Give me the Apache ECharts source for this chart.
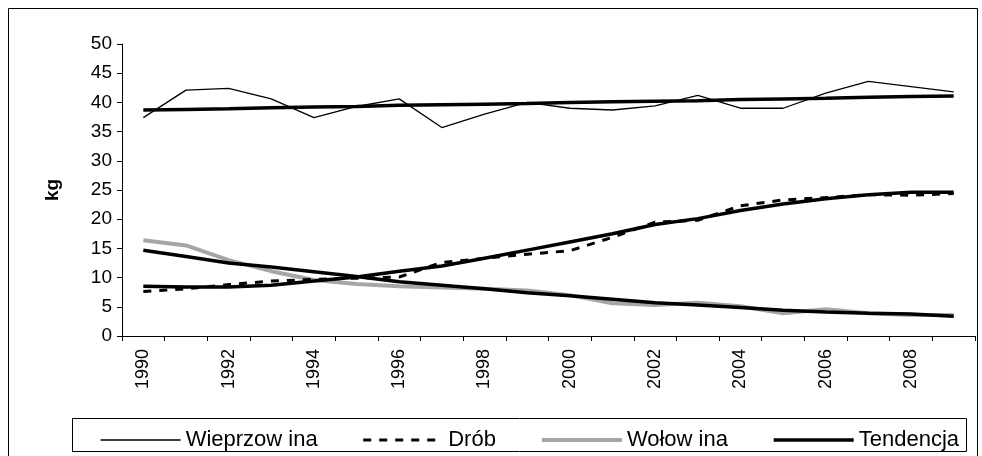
<!DOCTYPE html>
<html>
<head>
<meta charset="utf-8">
<script src="https://cdn.jsdelivr.net/npm/echarts@6/dist/echarts.min.js"></script>
<style>
html,body{margin:0;padding:0;background:#fff;}
#c{width:982px;height:456px;}
</style>
</head>
<body>
<div id="c"></div>
<script>
var years = ['1990','1991','1992','1993','1994','1995','1996','1997','1998','1999','2000','2001','2002','2003','2004','2005','2006','2007','2008','2009'];
var wieprzowina = [37.4,42.1,42.4,40.6,37.4,39.3,40.6,35.7,38.0,40.0,39.0,38.7,39.4,41.2,39.0,39.0,41.6,43.6,42.7,41.8];
var drob = [7.6,8.1,8.8,9.4,9.7,9.9,10.1,12.6,13.3,14.0,14.6,16.9,19.5,19.8,22.3,23.3,23.7,24.2,24.1,24.4];
var wolowina = [16.4,15.5,13.0,11.1,9.6,8.9,8.5,8.3,8.1,7.8,7.0,5.6,5.3,5.7,5.1,3.9,4.6,3.9,3.6,3.6];
var trendWieprz = [38.7,38.8,38.9,39.1,39.2,39.3,39.5,39.6,39.7,39.8,40.0,40.1,40.2,40.3,40.5,40.6,40.7,40.9,41.0,41.1];
var trendDrob = [8.5,8.4,8.4,8.7,9.4,10.1,11.1,12.0,13.3,14.7,16.1,17.5,19.1,20.1,21.5,22.6,23.5,24.2,24.6,24.6];
var trendWolow = [14.7,13.6,12.5,11.8,11.0,10.2,9.3,8.7,8.1,7.4,6.9,6.3,5.7,5.3,4.9,4.4,4.1,3.9,3.75,3.4];
var yTicks = {min:0, max:50, interval:5};
var names = ['Wieprzow ina','Drób','Wołow ina','Tendencja'];
var yName = 'kg';

var chart = echarts.init(document.getElementById('c'));
var font = 'Liberation Sans, Arial, sans-serif';
var styles = [
  {color:'#000', width:1.3},
  {color:'#000', width:3, type:[8,8]},
  {color:'#a6a6a6', width:4},
  {color:'#000', width:3.5}
];
function trend(d){
  return {name:names[3], type:'line', data:d, symbol:'none', z:5,
    lineStyle:styles[3], itemStyle:{color:'#000'}};
}
chart.setOption({
  animation:false,
  backgroundColor:'#fff',
  textStyle:{fontFamily:font, color:'#000'},
  graphic:[
    {type:'rect', shape:{x:8.5,y:8.5,width:969,height:470}, style:{fill:'none',stroke:'#000',lineWidth:1}, silent:true, z:-1},
    {type:'rect', shape:{x:72.5,y:418.5,width:894,height:33}, style:{fill:'#fff',stroke:'#000',lineWidth:1}, silent:true, z:-1}
  ],
  grid:{left:122, right:7, top:44, bottom:120, containLabel:false},
  legend:{
    data:names.map(function(n,i){ return {name:n, lineStyle:styles[i]}; }),
    left:95, top:424, itemWidth:80, itemHeight:14, itemGap:44,
    itemStyle:{opacity:0},
    textStyle:{fontSize:22, fontFamily:font, color:'#000', padding:[0,0,0,0]}
  },
  xAxis:{
    type:'category', data:years, boundaryGap:true,
    axisLine:{lineStyle:{color:'#000', width:1}},
    axisTick:{show:true, interval:0, length:5, lineStyle:{color:'#000'}},
    axisLabel:{interval:1, rotate:90, fontSize:18, color:'#000', fontFamily:font, margin:13}
  },
  yAxis:{
    type:'value', min:yTicks.min, max:yTicks.max, interval:yTicks.interval,
    name:yName, nameLocation:'middle', nameRotate:90, nameGap:60,
    nameTextStyle:{fontSize:19, fontWeight:'bold', color:'#000', fontFamily:font},
    axisLine:{show:true, lineStyle:{color:'#000', width:1}},
    axisTick:{show:true, length:5, lineStyle:{color:'#000'}},
    splitLine:{show:false},
    axisLabel:{fontSize:19, color:'#000', fontFamily:font, margin:10}
  },
  series:[
    {name:names[0], type:'line', data:wieprzowina, symbol:'none', z:3,
      lineStyle:styles[0], itemStyle:{color:'#000'}},
    {name:names[1], type:'line', data:drob, symbol:'none', z:4,
      lineStyle:styles[1], itemStyle:{color:'#000'}},
    {name:names[2], type:'line', data:wolowina, symbol:'none', z:2,
      lineStyle:styles[2], itemStyle:{color:'#a6a6a6'}},
    trend(trendWieprz), trend(trendDrob), trend(trendWolow)
  ]
});
</script>
</body>
</html>
